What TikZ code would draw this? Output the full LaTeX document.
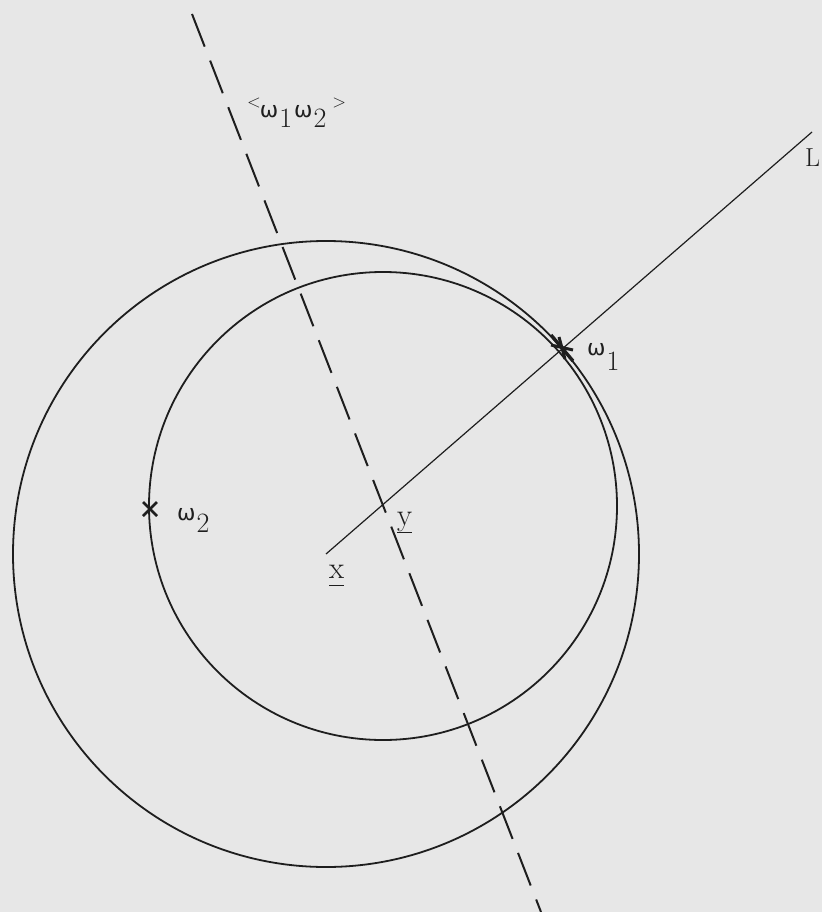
\documentclass[tikz,border=0pt]{standalone}
\usepackage{fontspec}
\newfontfamily\gk{DejaVu Sans}
\definecolor{paper}{RGB}{231,231,231}
\definecolor{ink}{RGB}{30,30,30}
\newcommand\ulx[1]{\setbox0\hbox{#1}\rlap{\rule[-8pt]{\wd0}{1.3pt}}\box0}
\newcommand\om{{\gk\fontsize{22}{24}\selectfont ω}}
\newcommand\ang[1]{{\fontsize{18}{20}\selectfont #1}}
\begin{document}
\begin{tikzpicture}[x=1pt,y=-1pt,
  circ/.style={draw=ink,line width=1.8pt},
  ray/.style={draw=ink,line width=1.2pt},
  bisector/.style={draw=ink,line width=2pt,dash pattern=on 35pt off 15pt},
  crossmark/.style={draw=ink,line width=3pt},
  lbl/.style={inner sep=0pt,anchor=base west,text=ink,font=\fontsize{28}{30}\selectfont}]
\fill[paper] (0,0) rectangle (822,912);
\useasboundingbox (0,0) rectangle (822,912);
\coordinate (X) at (326,554);
\coordinate (Y) at (383,506);
\coordinate (W1) at (562,348);
\coordinate (W2) at (150,509);
\coordinate (Lend) at (812,132);
\coordinate (Dtop) at (192,14);
\coordinate (Dbot) at (541,912);
% circles
\draw[circ] (X) circle[radius=313pt];
\draw[circ] (Y) circle[radius=234pt];
% line L
\draw[ray] (X) -- (Lend);
% dashed bisector
\draw[bisector] (Dtop) -- (Dbot);
% crosses
\draw[crossmark,line width=3.4pt] (W1) ++(-11,-13) -- ++(22,26);
\draw[crossmark] (W1) ++(-3,-11) -- ++(6,22);
\draw[crossmark] (W1) ++(-11,-3) -- ++(22,5);
\draw[crossmark,line width=2.8pt] (W2) ++(-7,-7) -- ++(14,14);
\draw[crossmark,line width=2.8pt] (W2) ++(-7,7) -- ++(14,-14);
% labels
\node[lbl] (lw12) at (247,128) {\raisebox{20pt}{\ang{<}}\hspace{-1pt}\raisebox{10pt}{\om}\hspace{1pt}1\hspace{2pt}\raisebox{10pt}{\om}\hspace{1pt}2\hspace{6pt}\raisebox{20pt}{\ang{>}}};
\node[lbl] (lw1) at (587,370) {\raisebox{15pt}{\om}\hspace{1pt}1};
\node[lbl] (lw2) at (177,532) {\raisebox{12pt}{\om}\hspace{1pt}2};
\node[lbl,font=\fontsize{31}{32}\selectfont] (ly) at (397,525) {\ulx{y}};
\node[lbl,font=\fontsize{31}{32}\selectfont] (lx) at (329,578) {\ulx{x}};
\node[lbl,font=\fontsize{26}{30}\selectfont] (lL) at (805,167) {L};
\end{tikzpicture}
\end{document}
